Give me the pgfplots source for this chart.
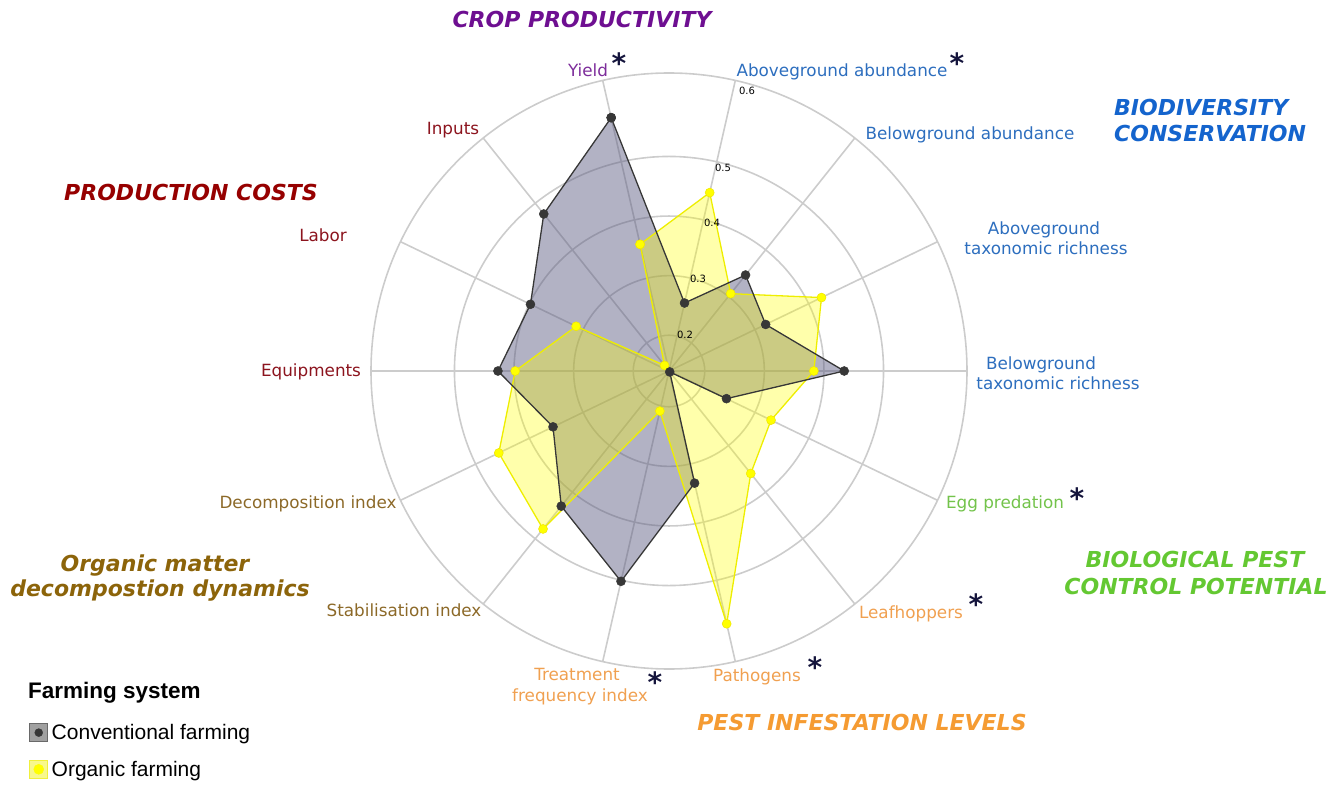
\documentclass[border=0pt]{standalone}
\usepackage{fontspec}
\setmainfont{DejaVu Sans}
\newfontfamily\legendfont{Liberation Sans}
\usepackage{pgfplots}
\usepackage{pgfplotstable}
\pgfplotsset{compat=1.18}
\usepgfplotslibrary{polar}

\definecolor{convfill}{RGB}{85,85,125}
\definecolor{convline}{RGB}{55,55,55}
\definecolor{orgfill}{RGB}{255,255,0}
\definecolor{orgline}{RGB}{238,238,0}
\definecolor{orgmark}{RGB}{240,230,0}
\definecolor{gridgray}{RGB}{204,204,204}
\definecolor{legconvfill}{RGB}{160,160,160}
\definecolor{legconvdraw}{RGB}{105,105,105}
\definecolor{legorgfill}{RGB}{248,248,140}
\definecolor{legorgdraw}{RGB}{240,240,60}
\definecolor{cropT}{RGB}{110,15,145}
\definecolor{cropL}{RGB}{125,45,155}
\definecolor{bioT}{RGB}{20,100,205}
\definecolor{bioL}{RGB}{45,110,190}
\definecolor{costT}{RGB}{150,0,0}
\definecolor{costL}{RGB}{140,20,30}
\definecolor{omT}{RGB}{140,100,10}
\definecolor{omL}{RGB}{140,105,40}
\definecolor{bpcT}{RGB}{100,200,50}
\definecolor{bpcL}{RGB}{115,195,75}
\definecolor{pestT}{RGB}{245,155,50}
\definecolor{pestL}{RGB}{240,160,80}
\definecolor{star}{RGB}{20,20,60}

% angle (deg, counter-clockwise from east), value
\pgfplotstableread{
angle value
102.857 0.576
77.143 0.257
51.429 0.346
25.714 0.320
0 0.434
-25.714 0.247
-51.429 0.142
-77.143 0.333
-102.857 0.502
-128.571 0.430
-154.286 0.356
-180 0.427
-205.714 0.398
-231.429 0.477
-257.143 0.576
}\conv

\pgfplotstableread{
angle value
102.857 0.358
77.143 0.447
51.429 0.306
25.714 0.424
0 0.383
-25.714 0.330
-51.429 0.360
-77.143 0.575
-102.857 0.209
-128.571 0.479
-154.286 0.457
-180 0.398
-205.714 0.313
-231.429 0.152
-257.143 0.358
}\org

\tikzset{
  lab/.style={inner sep=0pt, text height=12.2pt, text depth=0pt, font=\fontsize{16.8}{16.8}\selectfont},
  ttl/.style={inner sep=0pt, text height=16pt, text depth=0pt, font=\fontsize{22}{22}\selectfont\bfseries\itshape},
  ast/.style={inner sep=0pt, text=star, font=\fontsize{28}{28}\selectfont\bfseries},
  rtick/.style={inner sep=0pt, font=\fontsize{10}{10}\selectfont},
}

\begin{document}
\begin{tikzpicture}[x=1pt,y=1pt]
\useasboundingbox (0,0) rectangle (1344,785);

% page-sized axis, used only for the legend
\begin{axis}[
  at={(0pt,0pt)}, anchor=south west,
  width=1344pt, height=785pt, scale only axis,
  xmin=0, xmax=1344, ymin=0, ymax=785,
  hide axis,
  legend style={at={(0.0216,0.0046)}, anchor=south west, draw=none, fill=none,
    inner sep=0pt, row sep=13pt,
    font=\legendfont\fontsize{21}{25}\selectfont,
    nodes={inner sep=3.5pt}},
  legend cell align=left,
]
\addlegendimage{legend image code/.code={
  \draw[fill=legconvfill, draw=legconvdraw, line width=1pt] (0pt,-9pt) rectangle (18pt,9pt);
  \fill[convline] (9pt,0pt) circle (4pt);}}
\addlegendentry{Conventional farming}
\addlegendimage{legend image code/.code={
  \draw[fill=legorgfill, draw=legorgdraw, line width=1pt] (0pt,-9pt) rectangle (18pt,9pt);
  \fill[orgfill] (9pt,0pt) circle (5pt);}}
\addlegendentry{Organic farming}
\end{axis}

\begin{polaraxis}[
  at={(669pt,414pt)}, anchor=origin,
  width=596pt, height=596pt, scale only axis,
  xmin=0, xmax=360, ymin=0, ymax=0.5,
  xtick={0,25.714,51.429,77.143,102.857,128.571,154.286,180,205.714,231.429,257.143,282.857,308.571,334.286},
  ytick={0.06,0.16,0.26,0.36},
  xticklabels={}, yticklabels={},
  major tick length=0pt,
  grid=major,
  major grid style={draw=gridgray, line width=1.6pt},
  axis line style={draw=gridgray, line width=1.6pt},
  y filter/.expression={y-0.14},
]
\addplot[draw=none, fill=convfill, fill opacity=0.45] table[x=angle, y=value] {\conv};
\addplot[draw=none, fill=orgfill, fill opacity=0.33] table[x=angle, y=value] {\org};
\addplot[draw=orgline, line width=1.3pt, mark=*, mark size=4.5pt,
  mark options={fill=orgfill, draw=orgmark, line width=0.5pt}] table[x=angle, y=value] {\org};
\addplot[draw=convline, line width=1.3pt, mark=*, mark size=4.5pt,
  mark options={fill=convline, draw=convline, line width=0.5pt}] table[x=angle, y=value] {\conv};
\end{polaraxis}

% radial tick labels
\node[rtick] at (685,450) {0.2};
\node[rtick] at (698,506) {0.3};
\node[rtick] at (712,562) {0.4};
\node[rtick] at (723,617) {0.5};
\node[rtick] at (747,694) {0.6};

% axis labels
\node[lab, text=cropL] at (588,715) {Yield};
\node[lab, text=bioL] at (842,715) {Aboveground abundance};
\node[lab, text=bioL] at (970,652) {Belowground abundance};
\node[lab, text=bioL] at (1044,557) {Aboveground};
\node[lab, text=bioL] at (1046,537) {taxonomic richness};
\node[lab, text=bioL] at (1041,422) {Belowground};
\node[lab, text=bioL] at (1058,402) {taxonomic richness};
\node[lab, text=bpcL] at (1005,283) {Egg predation};
\node[lab, text=pestL] at (911,173) {Leafhoppers};
\node[lab, text=pestL] at (757,110) {Pathogens};
\node[lab, text=pestL] at (577,111) {Treatment};
\node[lab, text=pestL] at (580,90) {frequency index};
\node[lab, text=omL] at (404,175) {Stabilisation index};
\node[lab, text=omL] at (308,283) {Decomposition index};
\node[lab, text=costL] at (311,415) {Equipments};
\node[lab, text=costL] at (323,550) {Labor};
\node[lab, text=costL] at (453,657) {Inputs};

% significance stars
\node[ast] at (619,722) {*};
\node[ast] at (957,722) {*};
\node[ast] at (1077,287) {*};
\node[ast] at (976,181) {*};
\node[ast] at (815,118) {*};
\node[ast] at (655,103) {*};

% group titles
\node[ttl, text=cropT] at (582,765) {CROP PRODUCTIVITY};
\node[ttl, text=bioT, anchor=west] at (1114,677) {BIODIVERSITY};
\node[ttl, text=bioT, anchor=west] at (1114,651) {CONSERVATION};
\node[ttl, text=costT] at (191,592) {PRODUCTION COSTS};
\node[ttl, text=omT] at (155,221) {Organic matter};
\node[ttl, text=omT] at (160,196) {decompostion dynamics};
\node[ttl, text=bpcT] at (1195,225) {BIOLOGICAL PEST};
\node[ttl, text=bpcT] at (1196,198) {CONTROL POTENTIAL};
\node[ttl, text=pestT] at (862,63) {PEST INFESTATION LEVELS};

% legend title
\node[inner sep=0pt, anchor=west, text height=16pt, text depth=0pt,
  font=\legendfont\fontsize{22.5}{22.5}\selectfont\bfseries] at (28,95) {Farming system};
\end{tikzpicture}
\end{document}
